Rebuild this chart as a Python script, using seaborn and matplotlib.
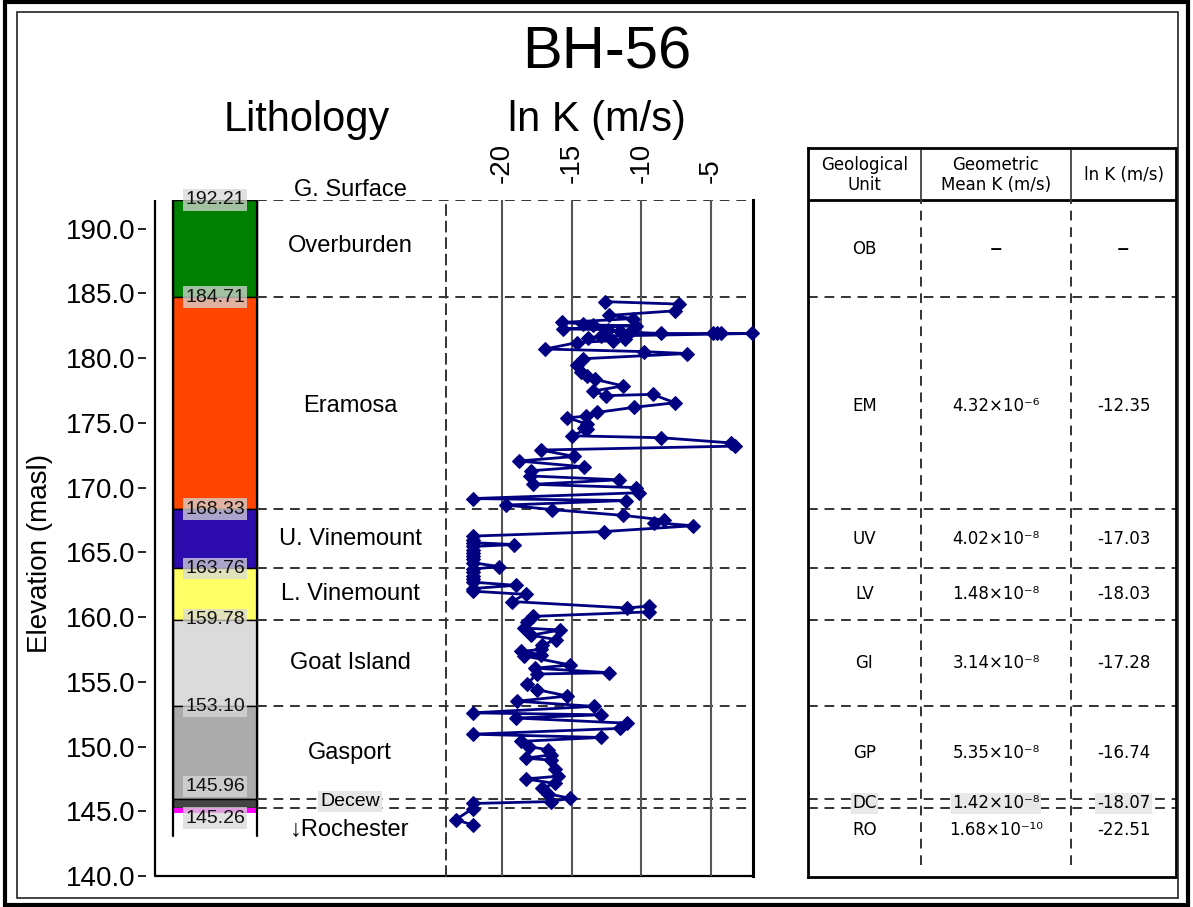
import matplotlib
matplotlib.use("Agg")
import matplotlib.pyplot as plt
from matplotlib.patches import Rectangle
import pandas as pd
import seaborn as sns

sns.set_theme(style="white")
plt.rcParams["font.family"] = ["Liberation Sans", "DejaVu Sans"]
plt.rcParams["text.color"] = "black"
plt.rcParams["axes.labelcolor"] = "black"
plt.rcParams["xtick.color"] = "black"
plt.rcParams["ytick.color"] = "black"

# ---------------- borehole units ----------------
unit_names = ["Overburden", "Eramosa", "U. Vinemount", "L. Vinemount",
              "Goat Island", "Gasport", "Decew", "\u2193Rochester"]
unit_codes = ["OB", "EM", "UV", "LV", "GI", "GP", "DC", "RO"]
unit_tops = [192.21, 184.71, 168.33, 163.76, 159.78, 153.10, 145.96, 145.26]
unit_colors = ["#008000", "#FF4500", "#2D0CAE", "#FFFF66",
               "#DCDCDC", "#ABABAB", "#444444", "#FFFFFF"]
mean_k = ["\u2013", "4.32\u00d710\u207b\u2076", "4.02\u00d710\u207b\u2078",
          "1.48\u00d710\u207b\u2078", "3.14\u00d710\u207b\u2078",
          "5.35\u00d710\u207b\u2078", "1.42\u00d710\u207b\u2078",
          "1.68\u00d710\u207b\u00b9\u2070"]
mean_lnk = ["\u2013", "-12.35", "-17.03", "-18.03", "-17.28", "-16.74",
            "-18.07", "-22.51"]

# ---------------- packer test profile ----------------
elev = [184.36, 184.17, 183.65, 183.30, 183.05, 182.75, 182.65, 182.55, 182.50,
        182.25, 182.20, 182.10, 182.00, 181.90, 181.90, 181.90, 181.90, 181.90,
        181.70, 181.55, 181.45, 181.35, 181.20, 180.70, 180.50, 180.35, 179.95,
        179.45, 178.90, 178.60, 178.35, 177.85, 177.45, 177.10, 177.20, 176.55,
        176.20, 175.80, 175.50, 175.40, 174.90, 174.60, 174.50, 174.00, 173.85,
        173.45, 173.20, 172.90, 172.40, 172.05, 171.60, 171.30, 170.90, 170.60,
        170.25, 170.00, 169.60, 169.15, 169.00, 168.65, 168.30, 167.85, 167.50,
        167.30, 167.05, 166.60, 166.25, 165.95, 165.75, 165.60, 165.45, 165.20,
        164.95, 164.70, 164.45, 164.20, 163.90, 163.70, 163.45, 163.20, 162.95,
        162.70, 162.45, 162.20, 162.00, 161.75, 161.20, 160.70, 160.85, 160.40,
        160.05, 159.65, 159.15, 159.00, 158.60, 158.25, 157.85, 157.50, 157.35,
        157.10, 157.00, 156.30, 156.05, 155.70, 155.60, 154.80, 154.40, 153.90,
        153.50, 153.10, 152.60, 152.45, 152.20, 151.80, 151.40, 150.95, 150.70,
        150.40, 150.00, 149.75, 149.35, 149.10, 148.95, 148.30, 147.70, 147.50,
        147.15, 146.80, 146.35, 146.00, 145.75, 145.60, 145.20, 144.35, 143.95]
lnk = [-12.6, -7.3, -7.6, -12.3, -10.6, -15.7, -14.2, -13.5, -10.4,
       -15.6, -12.4, -11.5, -10.8, -8.6, -4.9, -4.6, -4.3, -2.1,
       -12.9, -13.8, -11.2, -12.0, -14.6, -16.9, -9.8, -6.7, -14.2,
       -14.6, -14.3, -13.9, -13.3, -11.3, -13.5, -12.5, -9.2, -7.6,
       -10.5, -13.2, -14.0, -15.3, -13.9, -14.1, -13.9, -15.0, -8.6,
       -3.6, -3.3, -17.2, -14.8, -18.8, -14.1, -17.9, -18.0, -11.6,
       -17.8, -10.4, -10.2, -22.1, -11.1, -19.7, -16.4, -11.3, -8.4,
       -9.1, -6.3, -12.7, -22.1, -22.1, -22.1, -19.1, -22.1, -22.1,
       -22.1, -22.1, -22.1, -22.1, -20.2, -22.1, -22.1, -22.1, -22.1,
       -22.1, -19.0, -22.1, -22.1, -18.3, -19.3, -11.0, -9.45, -9.45,
       -17.8, -18.2, -18.4, -15.8, -17.9, -16.1, -17.1, -17.2, -18.6,
       -17.2, -18.4, -15.1, -17.6, -12.3, -17.5, -18.2, -17.5, -15.3,
       -18.9, -13.4, -22.1, -12.9, -19.0, -11.0, -11.5, -22.1, -12.9,
       -18.6, -18.05, -16.7, -16.5, -18.3, -16.5, -16.2, -16.0, -18.3,
       -16.2, -17.1, -16.7, -15.1, -16.5, -22.1, -22.1, -23.3, -22.1]
lnk_ticks = [-20, -15, -10, -5]
elev_ticks = [140.0, 145.0, 150.0, 155.0, 160.0, 165.0, 170.0, 175.0, 180.0, 185.0, 190.0]

# ---------------- layout helpers (figure pixels) ----------------
W, H = 1193, 907
def fx(px):
    return px / W
def fy(py):
    return 1 - py / H

Y_BOT, Y_TOP = 140.0, unit_tops[0]
DASH_KW = dict(color="#333333", lw=1.4, ls=(0, (5, 3.5)))

fig = plt.figure(figsize=(W / 100, H / 100), dpi=100)
fig.patch.set_facecolor("white")

# Figure frame (double border)
fig.add_artist(Rectangle((fx(5), fy(905)), fx(1188) - fx(5), fy(2) - fy(905),
                         transform=fig.transFigure, fill=False, lw=3, ec="black"))
fig.add_artist(Rectangle((fx(17), fy(898)), fx(1178) - fx(17), fy(12) - fy(898),
                         transform=fig.transFigure, fill=False, lw=1.2, ec="#222222"))

# ---------------- lithology axes ----------------
ax = fig.add_axes([fx(146), fy(876), fx(753) - fx(146), fy(200) - fy(876)])
ax.set_xlim(0, 1)
ax.set_ylim(Y_BOT, Y_TOP)
for s in ax.spines.values():
    s.set_visible(False)
ax.set_facecolor("none")
ax.set_xticks([])
ax.set_yticks(elev_ticks)
ax.set_yticklabels([f"{v:.1f}" for v in elev_ticks], fontsize=20)
ax.tick_params(axis="y", left=True, length=5.5, width=1.2, color="black", pad=2)
ax.set_ylabel("")

x_spine = 9 / 607
ax.plot([x_spine, x_spine, 1.0], [Y_TOP, Y_BOT, Y_BOT], color="black", lw=1.6,
        clip_on=False, solid_capstyle="butt")

col_l, col_r = 27 / 607, 111 / 607
col_c = (col_l + col_r) / 2
name_x = 204 / 607

bottoms = unit_tops[1:] + [None]
for name, top, bot, color in zip(unit_names, unit_tops, bottoms, unit_colors):
    if bot is not None:
        ax.add_patch(Rectangle((col_l, bot), col_r - col_l, top - bot,
                               facecolor=color, edgecolor="black", lw=1.0))
# Rochester: magenta top band on open column
ax.add_patch(Rectangle((col_l, unit_tops[-1] - 0.38), col_r - col_l, 0.38,
                       facecolor="#FF00FF", edgecolor="none"))
ax.plot([col_l, col_l], [Y_TOP, 143.1], color="black", lw=1.6)
ax.plot([col_r, col_r], [Y_TOP, 143.1], color="black", lw=1.6)

# Horizon lines
for top in unit_tops:
    ax.plot([col_r, 1.0], [top, top], **DASH_KW)

# Horizon elevation labels
label_box = dict(boxstyle="square,pad=0.12", facecolor="#d8d8d8", edgecolor="none", alpha=0.75)
for i, top in enumerate(unit_tops):
    y = top
    if i == 6:
        y = top + 0.95
    elif i == 7:
        y = top - 0.8
    ax.text(col_c, y, f"{top:.2f}", ha="center", va="center", fontsize=14,
            color="#111111", bbox=label_box, zorder=5)

# Unit names
ax.text(name_x, Y_TOP + 0.78, "G. Surface", ha="center", va="center", fontsize=17,
        clip_on=False)
name_shift = [0.2, -0.25, 0.0, 0.0, 0.0, 0.0, 0.0, 0.0]
for i, (name, top, bot) in enumerate(zip(unit_names, unit_tops, bottoms)):
    if i == 6:
        ax.text(name_x, (top + bot) / 2 + 0.15, name, ha="center", va="center",
                fontsize=14, bbox=dict(boxstyle="square,pad=0.1", facecolor="#e6e6e6",
                                       edgecolor="none"), zorder=5)
    elif bot is None:
        ax.text(name_x, 143.55, name, ha="center", va="center", fontsize=17)
    else:
        ax.text(name_x, (top + bot) / 2 + name_shift[i], name, ha="center",
                va="center", fontsize=17)

# ---------------- hydraulic conductivity axes ----------------
axk = fig.add_axes([fx(446), fy(876), fx(753) - fx(446), fy(200) - fy(876)])
axk.set_facecolor("none")
axk.set_xlim(-24, -2)
axk.set_ylim(Y_BOT, Y_TOP)
for v in lnk_ticks:
    axk.axvline(v, color="#555555", lw=1.5, zorder=1)
df = pd.DataFrame({"lnK": lnk, "Elevation": elev})
sns.lineplot(data=df, x="lnK", y="Elevation", sort=False, estimator=None,
             color="#000080", lw=2.0, marker="D", markersize=7.5,
             markeredgecolor="#000080", ax=axk, zorder=3, clip_on=False)
axk.xaxis.tick_top()
axk.set_xticks(lnk_ticks)
axk.set_xticklabels([str(v) for v in lnk_ticks], rotation=90, fontsize=20)
axk.tick_params(axis="x", top=True, bottom=False, length=0, pad=12)
axk.set_yticks([])
axk.set_xlabel("")
axk.set_ylabel("")
axk.spines["top"].set_visible(False)
axk.spines["bottom"].set_visible(False)
axk.spines["left"].set_linestyle((0, (5, 3.5)))
axk.spines["left"].set_color("#333333")
axk.spines["left"].set_linewidth(1.4)
axk.spines["right"].set_color("black")
axk.spines["right"].set_linewidth(2.2)

# ---------------- titles ----------------
fig.text(fx(607), fy(53), "BH-56", ha="center", va="center", fontsize=43)
fig.text(fx(307), fy(120), "Lithology", ha="center", va="center", fontsize=30)
fig.text(fx(597), fy(120), "ln K (m/s)", ha="center", va="center", fontsize=30)
fig.text(fx(40), fy(553), "Elevation (masl)", ha="center", va="center",
         rotation=90, fontsize=20)

# ---------------- summary table ----------------
px_per_m = (876 - 200) / (Y_TOP - Y_BOT)
axt = fig.add_axes([fx(808), fy(877), fx(1176) - fx(808), fy(148) - fy(877)])
axt.set_xlim(0, 1)
axt.set_ylim(Y_BOT - 1 / px_per_m, Y_BOT + (876 - 148) / px_per_m)
axt.set_xticks([])
axt.set_yticks([])
for s in axt.spines.values():
    s.set_color("black")
    s.set_linewidth(2.0)
tf = "DejaVu Sans"
c1, c2 = 113 / 368, 263 / 368
xs = [c1 / 2, (c1 + c2) / 2, (c2 + 1) / 2]
ytop = axt.get_ylim()[1]
axt.plot([0, 1], [Y_TOP, Y_TOP], color="black", lw=2.0)
for c in (c1, c2):
    axt.plot([c, c], [Y_TOP, ytop], color="#333333", lw=1.2)
    axt.plot([c, c], [140.85, Y_TOP], **DASH_KW)
for top in unit_tops[1:]:
    axt.plot([0, 1], [top, top], **DASH_KW)
hy = Y_TOP + 1.9
axt.text(xs[0], hy, "Geological\nUnit", ha="center", va="center", fontsize=12,
         family=tf, linespacing=1.15)
axt.text(xs[1], hy, "Geometric\nMean K (m/s)", ha="center", va="center", fontsize=12,
         family=tf, linespacing=1.15)
axt.text(xs[2], hy, "ln K (m/s)", ha="center", va="center", fontsize=12, family=tf)
cell_box = dict(boxstyle="square,pad=0.1", facecolor="#e8e8e8", edgecolor="none")
for i, (code, mk, ml, top, bot) in enumerate(zip(unit_codes, mean_k, mean_lnk,
                                                 unit_tops, bottoms)):
    y = 143.55 if bot is None else (top + bot) / 2
    if i == 1:
        y -= 0.25
    kw = dict(ha="center", va="center", fontsize=12, family=tf)
    if i == 6:
        kw["bbox"] = cell_box
    axt.text(xs[0], y, code, **kw)
    if i == 0:
        axt.text(xs[1], y, mk, ha="center", va="center", fontsize=18, family=tf)
        axt.text(xs[2], y, ml, ha="center", va="center", fontsize=18, family=tf)
    else:
        axt.text(xs[1], y, mk, **kw)
        axt.text(xs[2], y, ml, **kw)

fig.savefig("out.png", dpi=100)
